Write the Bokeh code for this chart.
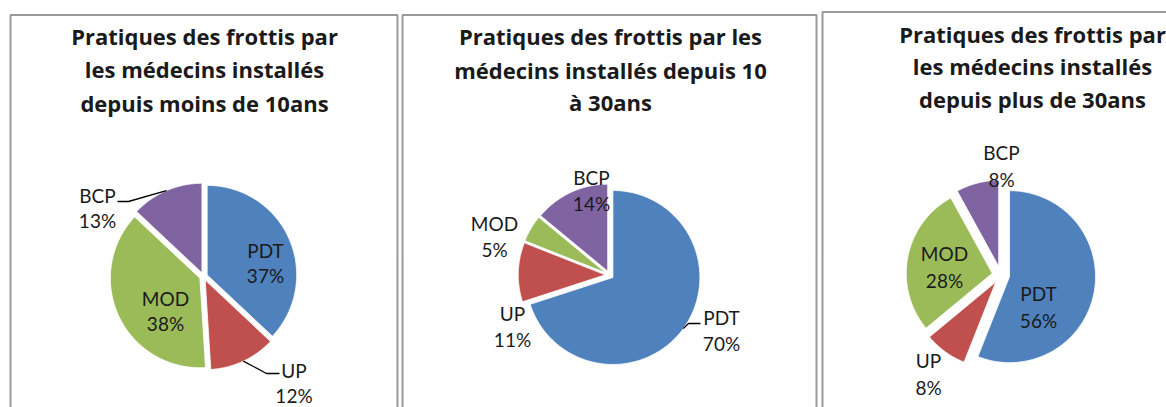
import numpy as np
from bokeh.plotting import figure
from bokeh.models import Range1d
from bokeh.embed import file_html
from bokeh.resources import INLINE
from bokeh.core.properties import value

# ---------------- data ----------------
categories = ["PDT", "UP", "MOD", "BCP"]
values_moins_10 = [37, 12, 38, 13]
values_10_30 = [70, 11, 5, 14]
values_plus_30 = [56, 8, 28, 8]
titles = [
    ["Pratiques des frottis par", "les médecins installés", "depuis moins de 10ans"],
    ["Pratiques des frottis par les", "médecins installés depuis 10", "à 30ans"],
    ["Pratiques des frottis par", "les médecins installés", "depuis plus de 30ans"],
]
colors = ["#4F81BD", "#C0504D", "#9BBB59", "#8064A2"]

# ---------------- layout (pixel coordinates) ----------------
panels = [
    dict(values=values_moins_10, title=titles[0],
         box=(10, 14.5, 397, 430), title_x=204, title_y=[35, 68.5, 102],
         center=(203, 276), r=89.5, explode=4.0,
         labels=[(265, 250), (293.5, 370), (165, 298), (97, 195)], gap=24.5,
         leaders={3: [(128, 201), (117, 201)], 1: [(266, 373), (279, 373)]}),
    dict(values=values_10_30, title=titles[1],
         box=(402, 14.5, 816, 430), title_x=610, title_y=[35, 69, 101],
         center=(609, 274.5), r=87, explode=4.2,
         labels=[(721, 317), (512, 313), (494, 223), (591, 177)], gap=25.5,
         leaders={0: [(688, 323), (700, 323)]}),
    dict(values=values_plus_30, title=titles[2],
         box=(822, 11.5, 1180, 430), title_x=1032, title_y=[33, 65.5, 98],
         center=(1000.4, 274.5), r=86, explode=8.8,
         labels=[(1038, 293), (928, 360), (944, 253), (1001, 152)], gap=26.5,
         leaders={}),
]

W, H = 1166, 407
p = figure(width=W, height=H, x_range=Range1d(0, W), y_range=Range1d(H, 0),
           output_backend="svg", toolbar_location=None,
           x_axis_type=None, y_axis_type=None, min_border=0)
p.grid.visible = False
p.outline_line_color = None
p.background_fill_color = "white"

LABEL_FONT = "Lato"
TITLE_FONT = "Open Sans"

for pan in panels:
    l, t, r_, b = pan["box"]
    p.line([l, l, r_, r_], [b, t, t, b], line_color="#9a9a9a", line_width=2)

    vals = np.array(pan["values"], dtype=float)
    frac = vals / vals.sum()
    bounds = np.concatenate([[0], np.cumsum(frac)]) * 2 * np.pi
    cx, cy = pan["center"]
    R = pan["r"]
    e = pan["explode"]
    xs, ys = [], []
    mids = []
    for i in range(len(vals)):
        a0, a1 = bounds[i], bounds[i + 1]
        m = 0.5 * (a0 + a1)
        mids.append(m)
        ox, oy = cx + e * np.sin(m), cy - e * np.cos(m)
        th = np.linspace(a0, a1, 120)
        xs.append(np.concatenate([[ox], ox + R * np.sin(th)]).tolist())
        ys.append(np.concatenate([[oy], oy - R * np.cos(th)]).tolist())
    p.patches(xs, ys, fill_color=colors, line_color="white", line_width=0.8)

    # leader lines
    for i, pts in pan["leaders"].items():
        m = mids[i]
        ox, oy = cx + e * np.sin(m), cy - e * np.cos(m)
        sx, sy = ox + R * np.sin(m), oy - R * np.cos(m)
        lx = [sx] + [q[0] for q in pts]
        ly = [sy] + [q[1] for q in pts]
        p.line(lx, ly, line_color="black", line_width=1.3)

    # data labels
    tx, ty, tt = [], [], []
    for i, cat in enumerate(categories):
        x0, y0 = pan["labels"][i]
        tx += [x0, x0]
        ty += [y0, y0 + pan["gap"]]
        tt += [cat, f"{int(vals[i])}%"]
    p.text(tx, ty, text=tt, text_align="center", text_baseline="middle",
           text_font=value(LABEL_FONT), text_font_size="19px", text_color="#1a1a1a")

    # title
    p.text([pan["title_x"]] * 3, pan["title_y"], text=pan["title"], text_align="center",
           text_baseline="middle", text_font=value(TITLE_FONT), text_font_size="22px",
           text_font_style="bold", text_color="#1a1a1a")

open("out.html", "w").write(file_html(p, INLINE))
